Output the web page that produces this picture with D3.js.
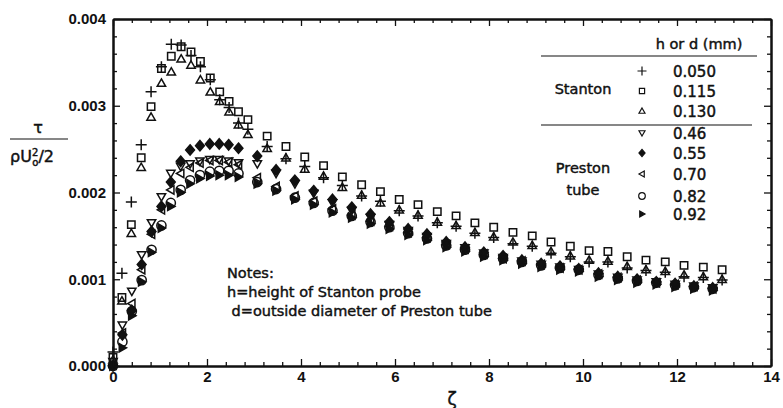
<!DOCTYPE html>
<html>
<head>
<meta charset="utf-8">
<script src="https://cdn.jsdelivr.net/npm/d3@7"></script>
<style>
  body { margin: 0; background: #fff; }
  svg { font-family: "DejaVu Sans", sans-serif; }
  .tick text { font-size: 15px; font-weight: bold; fill: #111; }
  .axis path, .axis line { stroke: #111; }
  .txt { font-size: 14.5px; fill: #111; stroke: #111; stroke-width: 0.45px; }
</style>
</head>
<body>
<div id="chart"></div>
<script>
// Stanton probe (h, mm)
const stantonX = [0, 0.19, 0.39, 0.60, 0.81, 1.03, 1.24, 1.45, 1.66, 1.86, 2.07, 2.27, 2.47, 2.67, 2.87,
  3.28, 3.68, 4.08, 4.48, 4.88, 5.29, 5.69, 6.09, 6.49, 6.90, 7.30, 7.70, 8.10, 8.51, 8.92, 9.32, 9.73,
  10.13, 10.53, 10.94, 11.34, 11.75, 12.15, 12.56, 12.96];
const plus050 = [0.00016, 0.00107, 0.00189, 0.00255, 0.00316, 0.00345, 0.00371, 0.00370, 0.00358, 0.00345,
  0.00330, 0.00307, 0.00298, 0.00280, 0.00273, 0.00253, 0.00239, 0.00230, 0.00217, 0.00208, 0.00196, 0.00190,
  0.00179, 0.00173, 0.00165, 0.00161, 0.00153, 0.00148, 0.00141, 0.00138, 0.00130, 0.00126, 0.00120, 0.00120,
  0.00113, 0.00110, 0.00108, 0.00103, 0.00102, 0.00099];
const square115 = [0.00010, 0.00079, 0.00163, 0.00240, 0.00299, 0.00343, 0.00357, 0.00368, 0.00362, 0.00351,
  0.00332, 0.00316, 0.00305, 0.00293, 0.00284, 0.00265, 0.00253, 0.00241, 0.00231, 0.00218, 0.00209, 0.00201,
  0.00192, 0.00186, 0.00178, 0.00173, 0.00165, 0.00160, 0.00154, 0.00150, 0.00143, 0.00138, 0.00133, 0.00132,
  0.00126, 0.00122, 0.00120, 0.00116, 0.00114, 0.00111];
const tri130 = [0.00007, 0.00075, 0.00153, 0.00229, 0.00287, 0.00326, 0.00339, 0.00354, 0.00347, 0.00330,
  0.00316, 0.00305, 0.00293, 0.00278, 0.00267, 0.00251, 0.00240, 0.00227, 0.00219, 0.00206, 0.00197, 0.00188,
  0.00180, 0.00174, 0.00166, 0.00162, 0.00154, 0.00149, 0.00143, 0.00139, 0.00132, 0.00127, 0.00122, 0.00121,
  0.00115, 0.00111, 0.00109, 0.00105, 0.00103, 0.00100];

// Preston tube (d, mm)
const prestonX = [0, 0.20, 0.40, 0.61, 0.82, 1.03, 1.23, 1.44, 1.64, 1.85, 2.06, 2.26, 2.46, 2.67,
  3.07, 3.47, 3.87, 4.27, 4.67, 5.08, 5.48, 5.88, 6.28, 6.68, 7.09, 7.49, 7.89, 8.30, 8.70, 9.11, 9.51,
  9.91, 10.33, 10.74, 11.15, 11.56, 11.96, 12.36, 12.76];
const tri046 = [0.00005, 0.00047, 0.00086, 0.00128, 0.00165, 0.00195, 0.00222, 0.00230, 0.00233, 0.00236,
  0.00238, 0.00238, 0.00236, 0.00234, 0.00233, 0.00222, 0.00210, 0.00199, 0.00188, 0.00179, 0.00171, 0.00163,
  0.00156, 0.00149, 0.00141, 0.00136, 0.00130, 0.00125, 0.00121, 0.00117, 0.00114, 0.00111, 0.00106, 0.00102,
  0.00099, 0.00097, 0.00094, 0.00092, 0.00090];
const dia055 = [0, 0.00036, 0.00064, 0.00117, 0.00155, 0.00184, 0.00212, 0.00236, 0.00249, 0.00254,
  0.00256, 0.00256, 0.00255, 0.00251, 0.00242, 0.00226, 0.00214, 0.00202, 0.00192, 0.00183, 0.00175, 0.00166,
  0.00158, 0.00152, 0.00143, 0.00137, 0.00131, 0.00127, 0.00122, 0.00118, 0.00115, 0.00112, 0.00107, 0.00103,
  0.00100, 0.00097, 0.00095, 0.00092, 0.00090];
const left070 = [0.00001, 0.00038, 0.00072, 0.00111, 0.00152, 0.00180, 0.00203, 0.00222, 0.00229, 0.00234,
  0.00237, 0.00237, 0.00235, 0.00232, 0.00217, 0.00207, 0.00196, 0.00190, 0.00181, 0.00174, 0.00167, 0.00161,
  0.00154, 0.00148, 0.00140, 0.00135, 0.00129, 0.00124, 0.00121, 0.00117, 0.00113, 0.00111, 0.00106, 0.00102,
  0.00099, 0.00096, 0.00094, 0.00092, 0.00089];
const circ082 = [0, 0.00028, 0.00063, 0.00099, 0.00134, 0.00162, 0.00188, 0.00203, 0.00214, 0.00220,
  0.00224, 0.00225, 0.00225, 0.00222, 0.00212, 0.00204, 0.00194, 0.00188, 0.00179, 0.00173, 0.00166, 0.00160,
  0.00153, 0.00147, 0.00139, 0.00134, 0.00128, 0.00124, 0.00120, 0.00116, 0.00113, 0.00111, 0.00105, 0.00101,
  0.00098, 0.00096, 0.00093, 0.00091, 0.00089];
const right092 = [0, 0.00021, 0.00058, 0.00097, 0.00131, 0.00159, 0.00184, 0.00200, 0.00210, 0.00216,
  0.00219, 0.00220, 0.00220, 0.00218, 0.00210, 0.00202, 0.00192, 0.00186, 0.00177, 0.00171, 0.00164, 0.00158,
  0.00151, 0.00145, 0.00137, 0.00132, 0.00126, 0.00122, 0.00118, 0.00114, 0.00111, 0.00109, 0.00103, 0.00099,
  0.00096, 0.00094, 0.00091, 0.00089, 0.00087];

const seriesLabels = ['0.050', '0.115', '0.130', '0.46', '0.55', '0.70', '0.82', '0.92'];
const xTicks = [0, 2, 4, 6, 8, 10, 12, 14];
const yTicks = [0, 0.001, 0.002, 0.003, 0.004];

const W = 783, H = 408;
const svg = d3.select('#chart').append('svg').attr('width', W).attr('height', H);

const x = d3.scaleLinear().domain([0, 14]).range([113, 771]);
const y = d3.scaleLinear().domain([0, 0.004]).range([366, 19]);

// marker shapes, s = half size
const shapes = {
  plus: s => `M${-s},0H${s}M0,${-s}V${s}`,
  square: s => `M${-s},${-s}H${s}V${s}H${-s}Z`,
  triUp: s => `M0,${-s}L${s},${s * 0.75}H${-s}Z`,
  triDown: s => `M0,${s}L${s},${-s * 0.75}H${-s}Z`,
  triLeft: s => `M${-s},0L${s * 0.75},${-s}V${s}Z`,
  triRight: s => `M${s},0L${-s * 0.75},${-s}V${s}Z`,
  diamond: s => `M0,${-s}L${s * 0.85},0L0,${s}L${-s * 0.85},0Z`,
  circle: s => `M${s},0A${s},${s} 0 1,1 ${-s},0A${s},${s} 0 1,1 ${s},0Z`
};

const series = [
  { xs: prestonX, ys: right092, shape: 'triRight', fill: true, s: 4.2 },
  { xs: prestonX, ys: circ082, shape: 'circle', fill: false, s: 4.6 },
  { xs: prestonX, ys: left070, shape: 'triLeft', fill: false, s: 4.2 },
  { xs: prestonX, ys: dia055, shape: 'diamond', fill: true, s: 5.2 },
  { xs: prestonX, ys: tri046, shape: 'triDown', fill: false, s: 4.2 },
  { xs: stantonX, ys: tri130, shape: 'triUp', fill: false, s: 4.2 },
  { xs: stantonX, ys: square115, shape: 'square', fill: false, s: 3.7 },
  { xs: stantonX, ys: plus050, shape: 'plus', fill: false, s: 5.5 }
];

const marks = svg.append('g');
series.forEach(sr => {
  marks.append('g')
    .selectAll('path')
    .data(sr.xs.map((v, i) => [v, sr.ys[i]]))
    .join('path')
    .attr('transform', d => `translate(${x(d[0])},${y(d[1])})`)
    .attr('d', shapes[sr.shape](sr.s))
    .attr('fill', sr.fill ? '#111' : 'none')
    .attr('stroke', '#111')
    .attr('stroke-width', 1.5);
});

// axes, ticks pointing inward
const xMinor = d3.range(0, 14.01, 0.4).filter(v => Math.abs(v / 2 - Math.round(v / 2)) > 0.01);
const yMinor = d3.range(0, 0.00401, 0.0002).filter(v => Math.abs(v * 1000 - Math.round(v * 1000)) > 0.01);

function axisGroup(axis, tx, ty) {
  const g = svg.append('g').attr('class', 'axis').attr('transform', `translate(${tx},${ty})`).call(axis);
  g.selectAll('line').attr('stroke-width', 1.3);
  g.select('.domain').attr('stroke-width', 2);
  return g;
}

axisGroup(d3.axisBottom(x).tickValues(xTicks).tickSize(-7).tickSizeOuter(0).tickPadding(5)
  .tickFormat(d3.format('d')), 0, 366);
axisGroup(d3.axisBottom(x).tickValues(xMinor).tickSize(-4).tickSizeOuter(0).tickFormat(''), 0, 366);
axisGroup(d3.axisTop(x).tickValues(xTicks).tickSize(-7).tickSizeOuter(0).tickFormat(''), 0, 19);
axisGroup(d3.axisTop(x).tickValues(xMinor).tickSize(-4).tickSizeOuter(0).tickFormat(''), 0, 19);
axisGroup(d3.axisLeft(y).tickValues(yTicks).tickSize(-7).tickSizeOuter(0).tickPadding(7)
  .tickFormat(d3.format('.3f')), 113, 0);
axisGroup(d3.axisLeft(y).tickValues(yMinor).tickSize(-4).tickSizeOuter(0).tickFormat(''), 113, 0);
axisGroup(d3.axisRight(y).tickValues(yTicks).tickSize(-7).tickSizeOuter(0).tickFormat(''), 771, 0);
axisGroup(d3.axisRight(y).tickValues(yMinor).tickSize(-4).tickSizeOuter(0).tickFormat(''), 771, 0);

// axis titles
svg.append('text').attr('class', 'txt').attr('x', 452).attr('y', 405)
  .attr('text-anchor', 'middle').style('font-size', '17px').text('ζ');
const yl = svg.append('g');
yl.append('text').attr('class', 'txt').attr('x', 38).attr('y', 133)
  .attr('text-anchor', 'middle').style('font-size', '16px').text('τ');
yl.append('line').attr('x1', 10).attr('x2', 68).attr('y1', 139).attr('y2', 139)
  .attr('stroke', '#111').attr('stroke-width', 1.2);
const den = yl.append('text').attr('class', 'txt').attr('x', 10).attr('y', 162).style('font-size', '16px');
den.append('tspan').text('ρU');
den.append('tspan').attr('dy', -6).style('font-size', '10px').text('2');
den.append('tspan').attr('dx', -6).attr('dy', 10).style('font-size', '10px').text('o');
den.append('tspan').attr('dy', -4).text('/2');

// notes
const notes = ['Notes:', 'h=height of Stanton probe', ' d=outside diameter of Preston tube'];
svg.append('g').selectAll('text').data(notes).join('text')
  .attr('class', 'txt').attr('x', 227).attr('y', (d, i) => 278 + i * 19)
  .attr('xml:space', 'preserve').text(d => d);

// legend
const lg = svg.append('g');
lg.append('text').attr('class', 'txt').attr('x', 699).attr('y', 49).attr('text-anchor', 'middle').text('h or d (mm)');
lg.append('line').attr('x1', 541).attr('x2', 757).attr('y1', 56).attr('y2', 56).attr('stroke', '#111').attr('stroke-width', 1.2);
lg.append('line').attr('x1', 541).attr('x2', 752).attr('y1', 125).attr('y2', 125).attr('stroke', '#111').attr('stroke-width', 1.2);
lg.append('text').attr('class', 'txt').attr('x', 583).attr('y', 94).attr('text-anchor', 'middle').text('Stanton');
lg.append('text').attr('class', 'txt').attr('x', 583).attr('y', 173).attr('text-anchor', 'middle').text('Preston');
lg.append('text').attr('class', 'txt').attr('x', 583).attr('y', 195).attr('text-anchor', 'middle').text('tube');

const legRows = [71, 91, 111, 133, 153, 174, 196, 214];
const legShapes = [
  ['plus', false, 4.5], ['square', false, 2.6], ['triUp', false, 3], ['triDown', false, 3],
  ['diamond', true, 3.6], ['triLeft', false, 3], ['circle', false, 3.3], ['triRight', true, 3]
];
seriesLabels.forEach((lab, i) => {
  const [sh, f, s] = legShapes[i];
  lg.append('path').attr('transform', `translate(642,${legRows[i]})`).attr('d', shapes[sh](s))
    .attr('fill', f ? '#111' : 'none').attr('stroke', '#111').attr('stroke-width', 1.2);
  lg.append('text').attr('class', 'txt').attr('x', 673).attr('y', legRows[i] + 6)
    .style('font-size', '15px').text(lab);
});
</script>
</body>
</html>
